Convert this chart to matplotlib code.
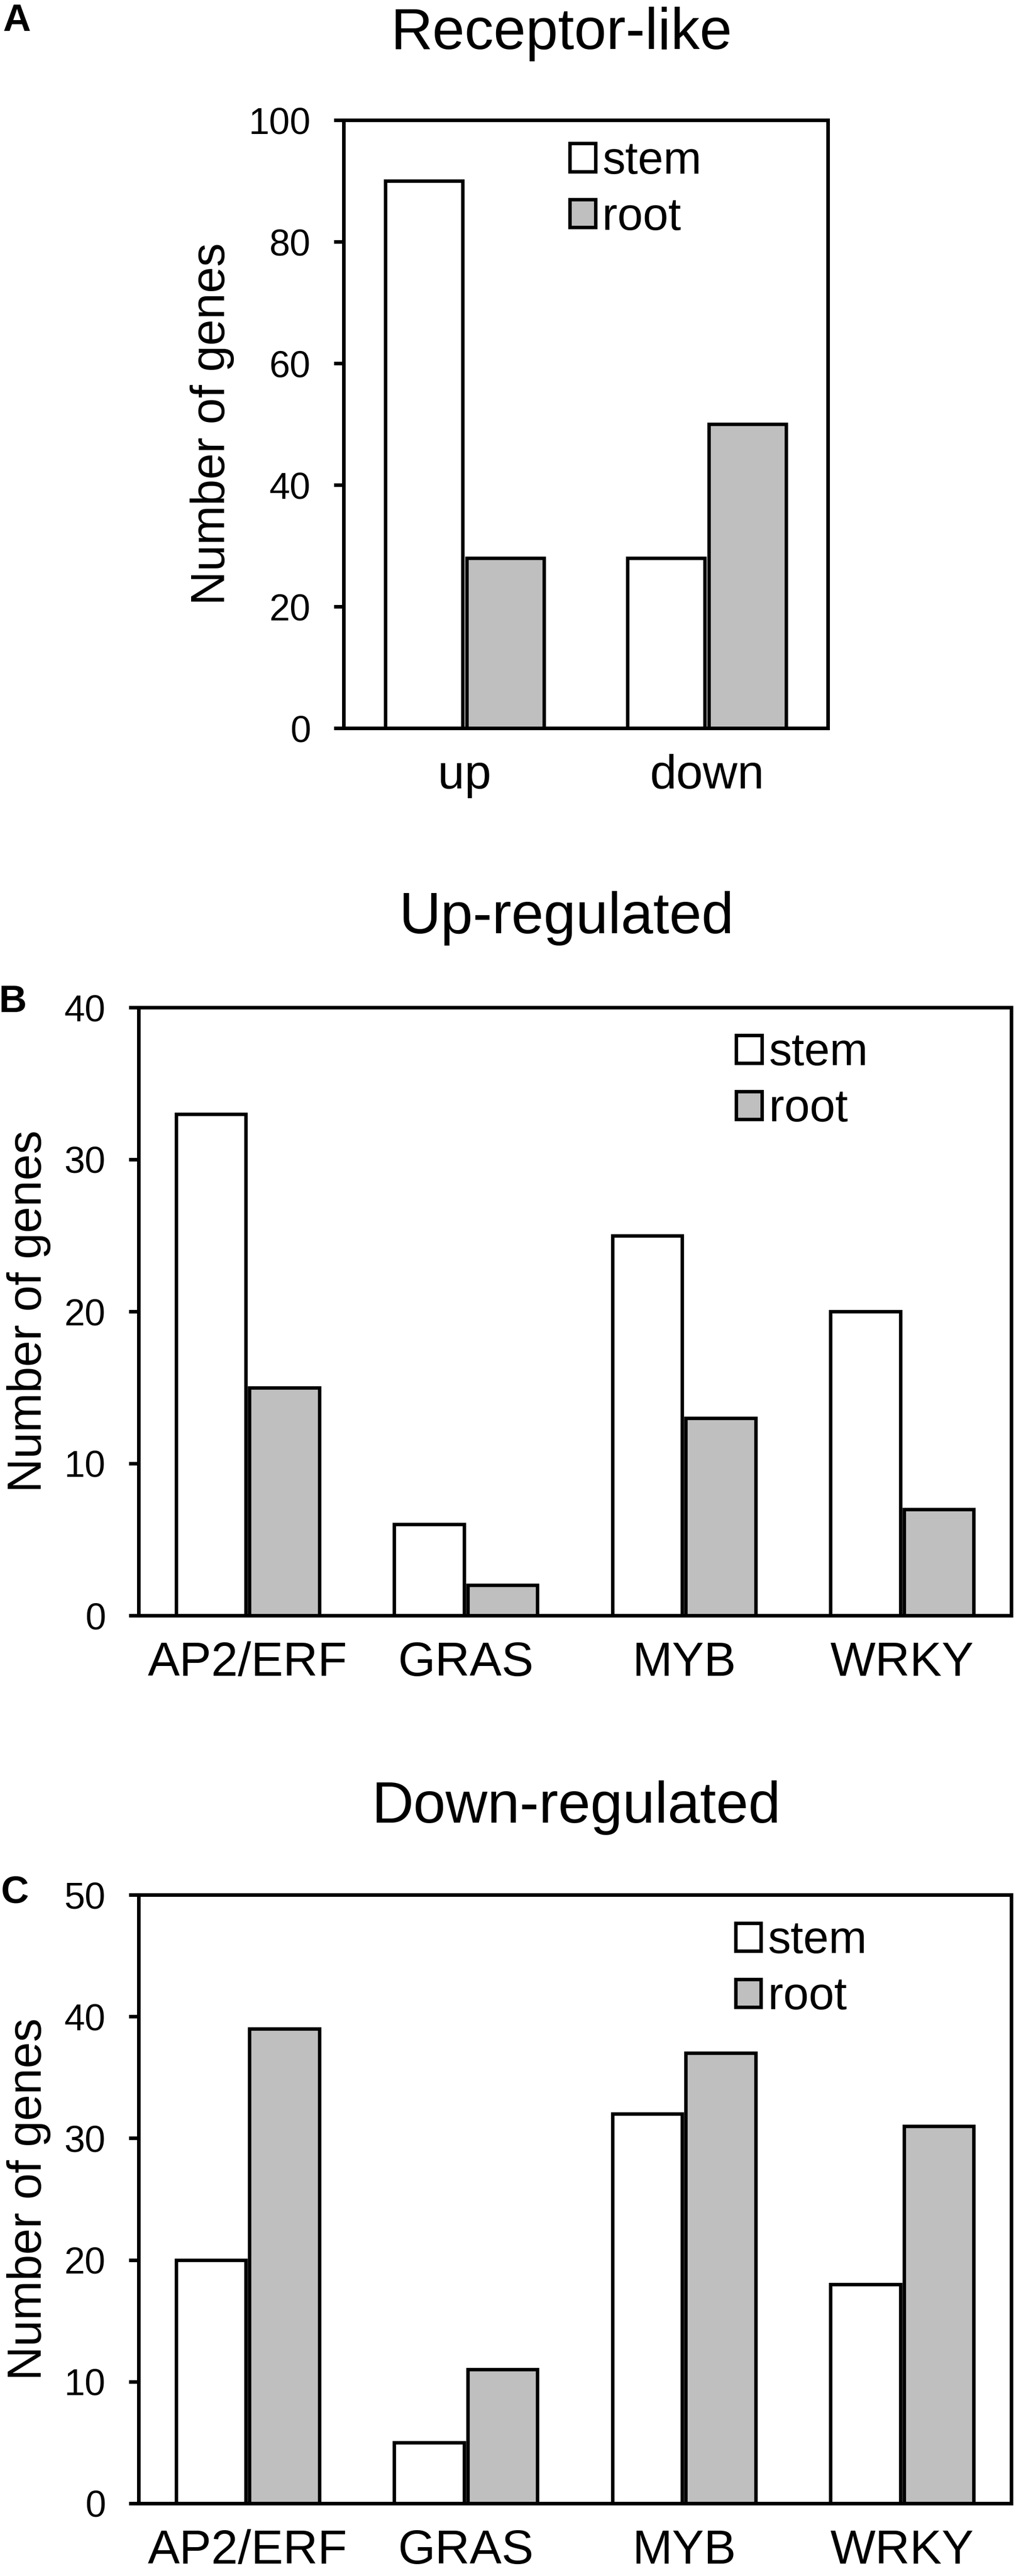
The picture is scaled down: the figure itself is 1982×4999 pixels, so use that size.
import numpy as np
import matplotlib
matplotlib.use("Agg")
import matplotlib.pyplot as plt

plt.rcParams["font.family"] = ["Liberation Sans", "DejaVu Sans"]

# ── data ────────────────────────────────────────────────────────────────────
receptor_cats = ["up", "down"]
receptor_stem = [90, 28]
receptor_root = [28, 50]

tf_cats = ["AP2/ERF", "GRAS", "MYB", "WRKY"]
up_stem = [33, 6, 25, 20]
up_root = [15, 2, 13, 7]
down_stem = [20, 5, 32, 18]
down_root = [39, 11, 37, 31]

C_STEM = "white"
C_ROOT = "#BFBFBF"

W, H = 1983, 4999
fig = plt.figure(figsize=(W / 100, H / 100), dpi=100)


def px_axes(left, right, top, bottom):
    return fig.add_axes([left / W, 1 - bottom / H, (right - left) / W, (bottom - top) / H])


def draw_panel(ax, cats, stem, root, ymax, step, leg_x, leg_y, ylab_x):
    x = np.arange(len(cats))
    bw, off = 0.32, 0.168
    b1 = ax.bar(x - off, stem, bw, color=C_STEM, edgecolor="black", linewidth=4.8, zorder=2)
    b2 = ax.bar(x + off, root, bw, color=C_ROOT, edgecolor="black", linewidth=4.8, zorder=2)
    ax.set_xlim(-0.5, len(cats) - 0.5)
    ax.set_ylim(0, ymax)
    ax.set_yticks(np.arange(0, ymax + 1, step))
    ax.set_xticks(x)
    ax.set_xticklabels(cats, fontsize=67)
    ax.tick_params(axis="x", length=0, pad=36)
    ax.tick_params(axis="y", labelsize=52, length=14, width=5, pad=32, direction="out")
    for s in ax.spines.values():
        s.set_linewidth(5)
        s.set_zorder(3)
    ax.set_ylabel("Number of genes", fontsize=66, va="center")
    ax.yaxis.set_label_coords(ylab_x, 0.5)
    ax.legend([b1, b2], ["stem", "root"], loc="upper left",
              bbox_to_anchor=(leg_x, leg_y), frameon=False, fontsize=64,
              handlelength=0.56, handleheight=0.56, handletextpad=0.15,
              labelspacing=0.28, borderpad=0, borderaxespad=0)


# Panel A
axA = px_axes(667, 1607, 233, 1413)
draw_panel(axA, receptor_cats, receptor_stem, receptor_root, 100, 20, 0.467, 0.967, -0.271)
fig.text(1090 / W, 1 - 95 / H, "Receptor-like", ha="center", va="baseline", fontsize=81)
fig.text(32 / W, 1 - 41 / H, "A", ha="center", va="center", fontsize=54, fontweight="bold")

# Panel B
axB = px_axes(269, 1963, 1955, 3135)
draw_panel(axB, tf_cats, up_stem, up_root, 40, 10, 0.685, 0.960, -0.126)
fig.text(1100 / W, 1 - 1811 / H, "Up-regulated", ha="center", va="baseline", fontsize=81)
fig.text(25 / W, 1 - 1945 / H, "B", ha="center", va="center", fontsize=54, fontweight="bold")

# Panel C
axC = px_axes(269, 1963, 3677, 4858)
draw_panel(axC, tf_cats, down_stem, down_root, 50, 10, 0.684, 0.959, -0.126)
fig.text(1119 / W, 1 - 3537 / H, "Down-regulated", ha="center", va="baseline", fontsize=81)
fig.text(29 / W, 1 - 3673 / H, "C", ha="center", va="center", fontsize=54, fontweight="bold")

fig.savefig("out.png", dpi=100, facecolor="white")
